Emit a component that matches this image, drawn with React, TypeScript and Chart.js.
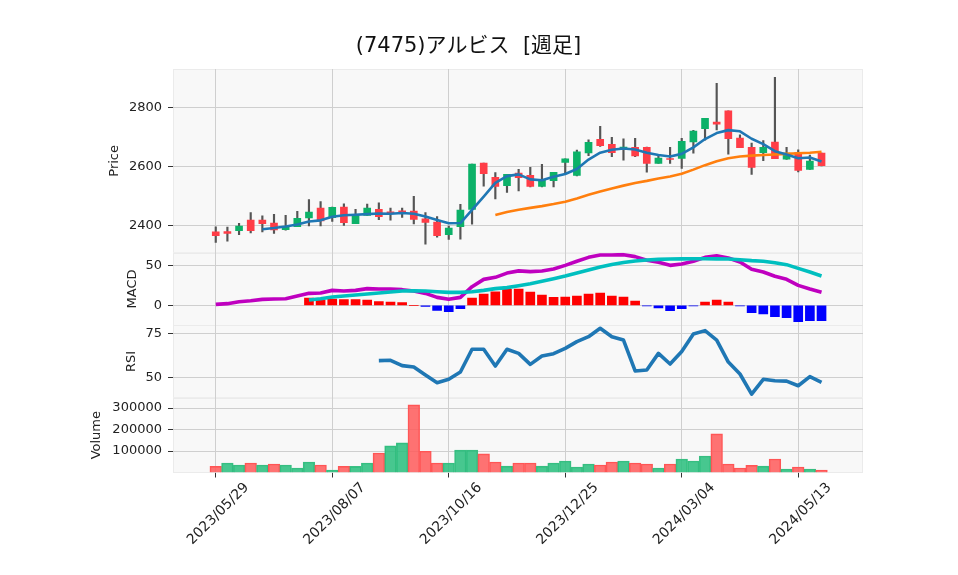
import React, { useEffect, useRef } from 'react';
import { Chart, registerables } from 'chart.js';

Chart.register(...registerables);

// ---- data (weekly) ----
const dates = [
  '2023/05/29', '2023/06/05', '2023/06/12', '2023/06/19', '2023/06/26', '2023/07/03', '2023/07/10', '2023/07/17',
  '2023/07/24', '2023/07/31', '2023/08/07', '2023/08/14', '2023/08/21', '2023/08/28', '2023/09/04', '2023/09/11',
  '2023/09/18', '2023/09/25', '2023/10/02', '2023/10/09', '2023/10/16', '2023/10/23', '2023/10/30', '2023/11/06',
  '2023/11/13', '2023/11/20', '2023/11/27', '2023/12/04', '2023/12/11', '2023/12/18', '2023/12/25', '2024/01/01',
  '2024/01/08', '2024/01/15', '2024/01/22', '2024/01/29', '2024/02/05', '2024/02/12', '2024/02/19', '2024/02/26',
  '2024/03/04', '2024/03/11', '2024/03/18', '2024/03/25', '2024/04/01', '2024/04/08', '2024/04/15', '2024/04/22',
  '2024/04/29', '2024/05/06', '2024/05/13', '2024/05/20', '2024/05/27',
];

const opens = [
  2380, 2381, 2384, 2420, 2420, 2410, 2388, 2398, 2427, 2460, 2428, 2464, 2408, 2436, 2456, 2448, 2451, 2450,
  2424, 2413, 2371, 2398, 2456, 2612, 2564, 2536, 2578, 2571, 2533, 2553, 2614, 2570, 2646, 2692, 2675, 2662,
  2665, 2665, 2611, 2627, 2628, 2683, 2728, 2750, 2788, 2696, 2665, 2647, 2683, 2625, 2647, 2591, 2646,
];
const highs = [
  2397, 2396, 2409, 2445, 2434, 2439, 2436, 2449, 2489, 2482, 2464, 2475, 2456, 2474, 2478, 2460, 2460, 2500,
  2445, 2432, 2400, 2473, 2609, 2612, 2580, 2574, 2591, 2598, 2608, 2581, 2626, 2656, 2690, 2736, 2699, 2694,
  2695, 2666, 2639, 2665, 2695, 2722, 2763, 2881, 2788, 2707, 2679, 2688, 2901, 2665, 2657, 2639, 2646,
];
const lows = [
  2345, 2349, 2371, 2377, 2380, 2375, 2386, 2398, 2400, 2400, 2415, 2402, 2408, 2436, 2421, 2420, 2429, 2407,
  2339, 2362, 2355, 2356, 2406, 2534, 2491, 2513, 2518, 2532, 2532, 2532, 2577, 2569, 2637, 2668, 2634, 2622,
  2634, 2581, 2611, 2611, 2594, 2645, 2689, 2724, 2642, 2664, 2574, 2620, 2627, 2624, 2582, 2591, 2602,
];
const closes = [
  2367, 2375, 2400, 2384, 2408, 2387, 2399, 2426, 2447, 2417, 2463, 2411, 2436, 2460, 2431, 2442, 2443, 2422,
  2412, 2367, 2393, 2454, 2609, 2576, 2533, 2574, 2563, 2533, 2557, 2581, 2626, 2650, 2682, 2671, 2647, 2666,
  2636, 2611, 2629, 2624, 2685, 2720, 2763, 2743, 2694, 2664, 2597, 2665, 2627, 2646, 2587, 2619, 2603,
];
const volumes = [
  28800, 44400, 35000, 44400, 35000, 39700, 35000, 21000, 49000, 35000, 11700, 28800, 28800, 44400, 91000, 124000,
  138000, 315000, 99000, 44400, 44400, 105000, 105000, 86400, 49000, 29500, 44400, 44400, 30000, 44400, 53700, 25700,
  39700, 35000, 49000, 53700, 44400, 39700, 21000, 39700, 63000, 53700, 77000, 180000, 39700, 21000, 33500, 30000,
  63000, 16400, 25700, 16400, 11700,
];

// moving averages
const ma5Start = 4;
const ma5 = [
  2389, 2393, 2398, 2405, 2415, 2419, 2431, 2436, 2438, 2440, 2442, 2441, 2444, 2441, 2432, 2420, 2409, 2410,
  2454, 2499, 2545, 2568, 2574, 2557, 2554, 2566, 2575, 2592, 2624, 2647, 2657, 2661, 2658, 2647, 2639, 2634,
  2643, 2665, 2693, 2713, 2723, 2719, 2694, 2676, 2652, 2641, 2628, 2631, 2617,
];
const ma25Start = 24;
const ma25 = [
  2437, 2447, 2455, 2461, 2467, 2474, 2482, 2493, 2505, 2516, 2526, 2536, 2545, 2552, 2560, 2567, 2576, 2590,
  2605, 2618, 2628, 2634, 2637, 2639, 2641, 2643, 2645, 2647, 2650,
];

// MACD
const macdStart = 0;
const macdLine = [
  1.2, 2.1, 4.6, 5.9, 7.6, 8, 8.4, 11.8, 15.2, 15.6, 19, 18.2, 19, 21.2, 20.7, 20.7, 19.9, 18.2, 15.2, 10.1,
  7.6, 10.1, 23.7, 33, 35.6, 41, 43.8, 42.8, 43.6, 46.2, 50.8, 56, 61, 64, 64, 64.4, 61.9, 57.2, 54.7, 50.8,
  52.5, 56, 61, 63.1, 60.2, 55, 45.8, 42.4, 36.9, 33, 25.4, 20.7, 16.5,
];
const signalStart = 8;
const signalLine = [
  6.7, 8.4, 10.6, 11.8, 13.1, 14.4, 15.6, 16.9, 18.2, 18.6, 18.2, 17.3, 16.5, 16.5, 17.3, 19, 21.2, 22.5,
  25, 27.5, 30.5, 33.8, 37.2, 41, 45, 48.8, 52, 54.5, 56.4, 57.6, 58.4, 58.8, 59.1, 59.3, 59.3, 59.1, 58.9,
  58, 56.8, 56, 54.2, 51.7, 47, 42.4, 37.3,
];
const histStart = 8;
const macdHist = [
  9.3, 6.7, 8, 7.2, 7.2, 6.7, 4.6, 4.2, 3.4, 0, -1.3, -6.4, -8, -4.2, 9.3, 14.4, 17.3, 20.3, 20.7, 16.9,
  13.1, 10.1, 10.6, 11.8, 14.4, 15.6, 11.8, 10.6, 5.5, -0.8, -3.4, -6.8, -4.2, -0.8, 4.2, 6.7, 4.2, -0.8,
  -9.3, -11, -14.4, -15.7, -20.8, -19.5, -19.5,
];

// RSI
const rsiStart = 14;
const rsi = [
  59.6, 59.8, 56.8, 56, 51.5, 47.2, 49.1, 53.2, 66, 66, 56.6, 66, 63.7, 57.5, 62.2, 63.5, 66.5, 70.3, 73.1,
  77.8, 73.1, 71.2, 53.8, 54.3, 63.7, 57.7, 64.7, 74.6, 76.5, 71.2, 58.8, 52.1, 40.8, 49.1, 48.3, 48.1, 45.5,
  50.6, 47.4,
];

// tick labels
const priceTicks = [2400, 2600, 2800];
const macdTicks = [0, 50];
const rsiTicks = [50, 75];
const volumeTicks = [100000, 200000, 300000];
const xTickIdx = [0, 10, 20, 30, 40, 50];

const UP = '#0cb168';
const DOWN = '#ff3d47';
const GRID = '#cfcfcf';
const TXT = '#222222';
const FAMILY = "'DejaVu Sans', 'Noto Sans CJK JP', sans-serif";
const FONT = { family: FAMILY, size: 13 };
const XFONT = { family: FAMILY, size: 14 };

const series = (arr: number[], start: number) => arr.map((v, k) => ({ x: k + start, y: v }));

const panelPlugin = {
  id: 'panels',
  beforeDraw(chart: any) {
    const { ctx, chartArea } = chart;
    const ids = ['yP', 'yM', 'yR', 'yV'];
    ctx.save();
    for (const id of ids) {
      const s = chart.scales[id];
      ctx.fillStyle = '#f8f8f8';
      ctx.fillRect(chartArea.left, s.top, chartArea.right - chartArea.left, s.bottom - s.top);
      ctx.strokeStyle = '#ebebeb';
      ctx.lineWidth = 1;
      ctx.strokeRect(Math.round(chartArea.left) + 0.5, Math.round(s.top) + 0.5,
        Math.round(chartArea.right - chartArea.left) - 1, Math.round(s.bottom - s.top) - 1);
    }
    ctx.restore();
  },
};

function yAxis(ticks: number[], min: number, max: number, title: string, titlePad: number, stackWeight: number, weight: number) {
  return {
    type: 'linear',
    axis: 'y',
    position: 'left',
    stack: 'panels',
    stackWeight,
    weight,
    min,
    max,
    offset: false,
    afterFit: (s: any) => { s.width = 99; },
    afterBuildTicks: (s: any) => { s.ticks = ticks.map((v) => ({ value: v })); },
    border: { display: false },
    grid: { color: GRID, lineWidth: 1, tickLength: 5, tickColor: '#333333', drawTicks: true },
    ticks: { padding: 6, color: TXT, font: FONT, autoSkip: false, callback: (v: any) => String(v) },
    title: { display: true, text: title, color: TXT, font: FONT, padding: { top: titlePad, bottom: 0 } },
  };
}

export default function App() {
  const ref = useRef<HTMLCanvasElement | null>(null);

  useEffect(() => {
    if (!ref.current) return;
    const idx = dates.map((_, i) => i);
    const volColors = idx.map((i) => (i > 0 && closes[i] >= closes[i - 1] ? 'rgba(40,190,125,0.85)' : 'rgba(255,90,90,0.85)'));
    const volBorders = idx.map((i) => (i > 0 && closes[i] >= closes[i - 1] ? '#3cbf84' : '#ff5555'));

    const chart = new Chart(ref.current, {
      type: 'bar',
      data: {
        datasets: [
          {
            type: 'line', label: 'MA5', data: series(ma5, ma5Start), yAxisID: 'yP',
            borderColor: '#1f77b4', borderWidth: 2.6, pointRadius: 0, borderJoinStyle: 'round', order: 1,
          },
          {
            type: 'line', label: 'MA25', data: series(ma25, ma25Start), yAxisID: 'yP',
            borderColor: '#ff7f0e', borderWidth: 2.6, pointRadius: 0, borderJoinStyle: 'round', order: 1,
          },
          {
            type: 'bar', label: 'wick', data: idx.map((i) => ({ x: i, y: [lows[i], highs[i]] })), yAxisID: 'yP',
            backgroundColor: '#555555', barThickness: 1.5, grouped: false, order: 6,
          },
          {
            type: 'bar', label: 'body', data: idx.map((i) => ({ x: i, y: [opens[i], closes[i]] })), yAxisID: 'yP',
            backgroundColor: idx.map((i) => (closes[i] >= opens[i] ? UP : DOWN)), barThickness: 7, grouped: false, order: 5,
          },
          {
            type: 'line', label: 'MACD', data: series(macdLine, macdStart), yAxisID: 'yM',
            borderColor: '#bf00bf', borderWidth: 3.6, pointRadius: 0, borderJoinStyle: 'round', order: 1,
          },
          {
            type: 'line', label: 'Signal', data: series(signalLine, signalStart), yAxisID: 'yM',
            borderColor: '#00bfbf', borderWidth: 3.6, pointRadius: 0, borderJoinStyle: 'round', order: 0,
          },
          {
            type: 'bar', label: 'Hist', data: series(macdHist, histStart), yAxisID: 'yM',
            backgroundColor: macdHist.map((v) => (v >= 0 ? '#ff0000' : '#0000ff')), barThickness: 9, grouped: false, order: 5,
          },
          {
            type: 'line', label: 'RSI', data: series(rsi, rsiStart), yAxisID: 'yR',
            borderColor: '#1f77b4', borderWidth: 3.6, pointRadius: 0, borderJoinStyle: 'round', order: 1,
          },
          {
            type: 'bar', label: 'Volume', data: idx.map((i) => ({ x: i, y: volumes[i] })), yAxisID: 'yV',
            backgroundColor: volColors, borderColor: volBorders, borderWidth: 1, barThickness: 11.65, grouped: false, order: 5,
          },
        ],
      } as any,
      options: {
        animation: false,
        responsive: false,
        devicePixelRatio: 1,
        events: [],
        layout: { padding: { left: 74, right: 95, top: 0, bottom: 0 } },
        plugins: {
          legend: { display: false },
          tooltip: { enabled: false },
          title: {
            display: true,
            text: '(7475)アルビス  [週足]',
            color: '#111111',
            font: { family: FAMILY, size: 21, weight: 'normal' },
            padding: { top: 33.5, bottom: 10.3 },
          },
        },
        scales: {
          x: {
            type: 'linear',
            position: 'bottom',
            min: -3.67,
            max: 55.56,
            offset: false,
            afterFit: (s: any) => { s.height = 102.5; },
            afterBuildTicks: (s: any) => { s.ticks = xTickIdx.map((v) => ({ value: v })); },
            border: { display: false },
            grid: { offset: false, color: GRID, lineWidth: 1, tickLength: 5, tickColor: '#333333' },
            ticks: {
              autoSkip: false, minRotation: 45, maxRotation: 45, labelOffset: 31, padding: 2,
              color: TXT, font: XFONT, callback: (v: any) => dates[v] ?? '',
            },
          },
          yP: yAxis(priceTicks, 2310, 2929, 'Price', 33, 183.7, 4),
          yM: yAxis(macdTicks, -25.4, 66.9, 'MACD', 51, 72.6, 3),
          yR: yAxis(rsiTicks, 38.7, 79.5, 'RSI', 50, 72.5, 2),
          yV: yAxis(volumeTicks, 0, 348000, 'Volume', 15, 74.7, 1),
        } as any,
      },
      plugins: [panelPlugin],
    } as any);

    return () => { chart.destroy(); };
  }, []);

  return (
    <div style={{ position: 'fixed', left: 0, top: 0, width: 958, height: 575, background: '#ffffff' }}>
      <canvas ref={ref} width={958} height={575} style={{ display: 'block', width: 958, height: 575 }} />
    </div>
  );
}
